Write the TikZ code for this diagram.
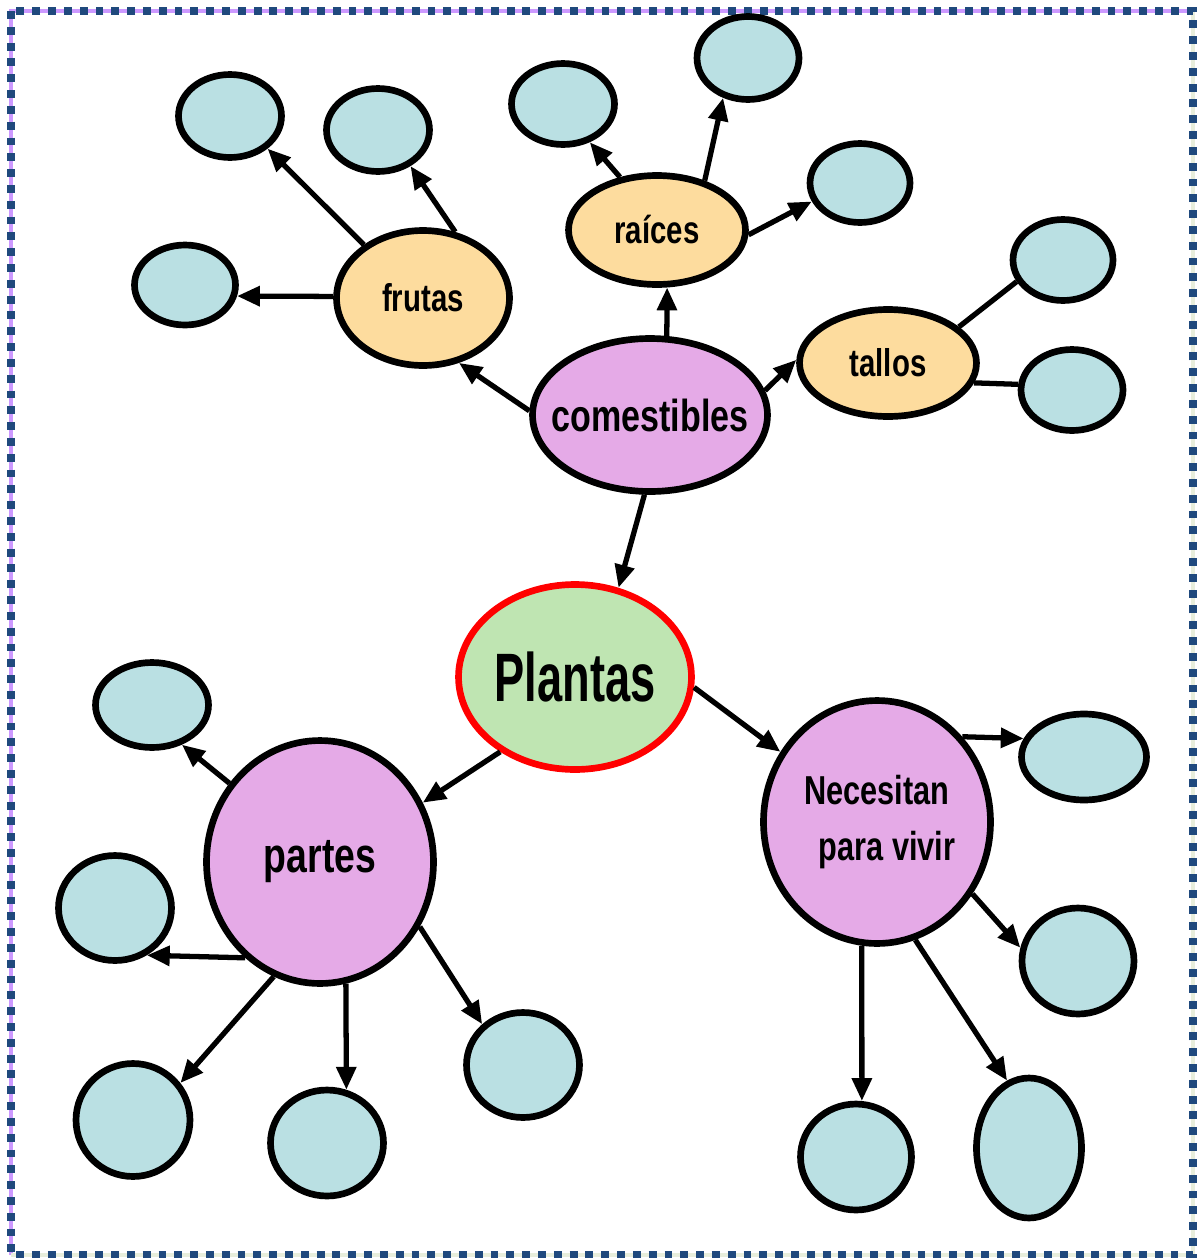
\documentclass[tikz,border=0pt]{standalone}
\usepackage{fontspec}
\setmainfont{Liberation Sans}[FakeStretch=0.76]
\newfontfamily\titlefont{Liberation Sans}[FakeStretch=0.66]
\usepackage{tikz}
\usetikzlibrary{arrows.meta,shapes.geometric}
\definecolor{leafblue}{HTML}{BAE0E3}
\definecolor{catorange}{HTML}{FDDC9E}
\definecolor{topicpink}{HTML}{E5AAE7}
\definecolor{rootgreen}{HTML}{BFE5B2}
\definecolor{frameblue}{HTML}{1F497D}
\definecolor{framelilac}{HTML}{CC99FF}
\definecolor{framesage}{HTML}{E8EEDC}
\tikzset{
  bub/.style={ellipse,draw,line width=3.8pt,inner sep=-1.5cm,align=center},
  leaf/.style={bub,fill=leafblue},
  sub/.style={bub,fill=catorange,font=\bfseries\fontsize{22}{26}\selectfont},
  topic/.style={bub,fill=topicpink},
  arr/.style={-{Triangle[length=13pt,width=11pt]},line width=3pt},
  ln/.style={line width=3pt},
}

\begin{document}
\begin{tikzpicture}[x=0.02cm,y=-0.02cm]
\useasboundingbox (0,0) rectangle (1198,1258);
% frame
\draw[framelilac,line width=2pt] (11,1255) -- (11,11) -- (1193,11);
\draw[framesage,line width=2pt] (1193,11) -- (1193,1255) -- (11,1255);
\draw[frameblue,line width=4.5pt,dash pattern=on 4.5pt off 4.5pt] (11,11) rectangle (1193,1255);
% main bubbles
\node[bub,draw=red,fill=rootgreen,minimum width=4.66cm,minimum height=3.7cm,font=\titlefont\bfseries\fontsize{39}{40}\selectfont] (pl) at (575,677) {Plantas};
\node[topic,minimum width=4.7cm,minimum height=3.06cm,font=\bfseries\fontsize{25.5}{28}\selectfont] (com) at (650,415) {comestibles};
\node[topic,minimum width=4.54cm,minimum height=4.86cm,font=\bfseries\fontsize{28}{30}\selectfont] (par) at (320,862) {partes};
\node[topic,minimum width=4.54cm,minimum height=4.86cm,font=\bfseries\fontsize{23}{32}\selectfont] (nec) at (877,822) {Necesitan\\\hspace*{0.5em}para vivir};
\node[sub,minimum width=3.46cm,minimum height=2.7cm] (fru) at (423,298) {frutas};
\node[sub,minimum width=3.54cm,minimum height=2.18cm] (rai) at (657,230) {raíces};
\node[sub,minimum width=3.54cm,minimum height=2.14cm] (tal) at (888,363) {tallos};
% empty leaves
\foreach \n/\x/\y/\w/\h in {l1/230/116/2.06/1.66, l2/378/130/2.06/1.66, l3/185/285/2.02/1.6,
  l4/563/104/2.06/1.62, l5/748/58/2.04/1.66, l6/860/183/2.0/1.58, l7/1063/260/2.0/1.62,
  l8/1072/390/2.04/1.62, l9/152/705/2.26/1.7, l10/115/908/2.26/2.1, l11/133/1120/2.28/2.26,
  l12/327/1143/2.26/2.12, l13/523/1065/2.26/2.1, l14/1084/757/2.5/1.72, l15/1078/961/2.24/2.12,
  l16/856/1157/2.22/2.12, l17/1029/1148/2.1/2.8}
  \node[leaf,minimum width=\w cm,minimum height=\h cm] (\n) at (\x,\y) {};
% connectors
\foreach \a/\p/\b/\q in {com/-94/pl/64, com/178/fru/-61, com/78/rai/-80, com/12/tal/178,
  fru/138/l1/-41, fru/64/l2/-48, fru/179/l3/-12,
  rai/125/l4/-55, rai/46/l5/-122, rai/-3/l6/-159,
  pl/-135/par/30, pl/-5/nec/144,
  par/139/l9/-53, par/-128/l10/-56, par/-112/l11/38, par/-78/l12/70, par/-33/l13/135,
  nec/45/l14/163, nec/-37/l15/167, nec/-97/l16/84, nec/-72/l17/108}
  \draw[arr] (\a.\p) -- (\b.\q);
\draw[ln] (tal.27) -- (l7.-155);
\draw[ln] (tal.-13) -- (l8.174);
\end{tikzpicture}
\end{document}
